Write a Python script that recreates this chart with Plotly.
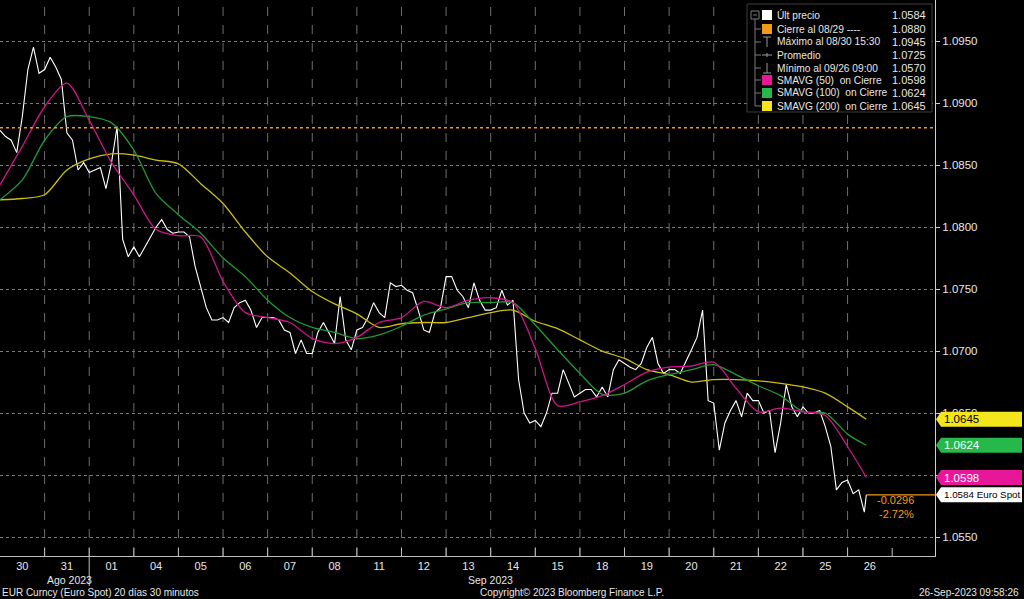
import plotly.graph_objects as go

# ---------------- data ----------------
day_labels = ["30", "31", "01", "04", "05", "06", "07", "08", "11", "12",
              "13", "14", "15", "18", "19", "20", "21", "22", "25", "26"]
month_labels = ["Ago 2023", "Sep 2023"]

# EUR spot, sampled every 6 half-hour bars (8 per trading day), last value = latest print
price = [
    1.0878, 1.0873, 1.0870, 1.0860, 1.0889, 1.0927, 1.0945, 1.0924,
    1.0927, 1.0937, 1.0929, 1.0919, 1.0876, 1.0870, 1.0846, 1.0852,
    1.0844, 1.0846, 1.0848, 1.0831, 1.0852, 1.0881, 1.0790, 1.0776,
    1.0784, 1.0776, 1.0784, 1.0792, 1.0800, 1.0806, 1.0798, 1.0795,
    1.0796, 1.0796, 1.0792, 1.0768, 1.0752, 1.0735, 1.0725, 1.0725,
    1.0727, 1.0723, 1.0735, 1.0739, 1.0741, 1.0733, 1.0719, 1.0727,
    1.0727, 1.0727, 1.0725, 1.0717, 1.0715, 1.0698, 1.0709, 1.0698,
    1.0698, 1.0715, 1.0723, 1.0715, 1.0706, 1.0744, 1.0709, 1.0701,
    1.0717, 1.0719, 1.0727, 1.0739, 1.0731, 1.0727, 1.0755, 1.0752,
    1.0753, 1.0749, 1.0747, 1.0733, 1.0717, 1.0715, 1.0731, 1.0735,
    1.0760, 1.0760, 1.0749, 1.0744, 1.0735, 1.0755, 1.0741, 1.0733,
    1.0733, 1.0735, 1.0749, 1.0737, 1.0741, 1.0677, 1.0650, 1.0642,
    1.0644, 1.0639, 1.0650, 1.0666, 1.0666, 1.0685, 1.0674, 1.0663,
    1.0666, 1.0669, 1.0669, 1.0663, 1.0671, 1.0663, 1.0685, 1.0693,
    1.0690, 1.0687, 1.0685, 1.0690, 1.0703, 1.0711, 1.0690, 1.0682,
    1.0685, 1.0685, 1.0682, 1.0691, 1.0701, 1.0711, 1.0733, 1.0660,
    1.0658, 1.0620, 1.0642, 1.0652, 1.0660, 1.0647, 1.0666, 1.0660,
    1.0660, 1.0650, 1.0652, 1.0618, 1.0642, 1.0673, 1.0655, 1.0647,
    1.0655, 1.0650, 1.0650, 1.0652, 1.0639, 1.0623, 1.0588, 1.0594,
    1.0596, 1.0585, 1.0588, 1.0570, 1.0584,
]
# moving averages, sampled every half day, last value = latest
sma50 = [1.0834, 1.0865, 1.0897, 1.0916, 1.0886, 1.0852, 1.0826, 1.0798, 1.0793, 1.0792,
         1.0756, 1.0731, 1.0727, 1.0723, 1.0710, 1.0706, 1.0711, 1.0723, 1.0727, 1.0740,
         1.0735, 1.0741, 1.0743, 1.0739, 1.0702, 1.0656, 1.0659, 1.0664, 1.0673, 1.0683,
         1.0687, 1.0688, 1.0691, 1.0670, 1.0651, 1.0654, 1.0651, 1.0648, 1.0623, 1.0598]
sma100 = [1.0822, 1.0838, 1.0870, 1.0889, 1.0889, 1.0884, 1.0862, 1.0827, 1.0810, 1.0795,
          1.0775, 1.0760, 1.0741, 1.0727, 1.0719, 1.0715, 1.0710, 1.0713, 1.0720, 1.0729,
          1.0734, 1.0739, 1.0739, 1.0739, 1.0721, 1.0701, 1.0682, 1.0665, 1.0666, 1.0676,
          1.0681, 1.0685, 1.0689, 1.0681, 1.0672, 1.0664, 1.0651, 1.0650, 1.0633, 1.0624]
sma200 = [1.0822, 1.0823, 1.0826, 1.0846, 1.0855, 1.0859, 1.0858, 1.0854, 1.0851, 1.0835,
          1.0819, 1.0796, 1.0776, 1.0763, 1.0748, 1.0738, 1.0730, 1.0719, 1.0722, 1.0723,
          1.0723, 1.0727, 1.0731, 1.0733, 1.0724, 1.0718, 1.0709, 1.0700, 1.0694, 1.0685,
          1.0681, 1.0675, 1.0677, 1.0677, 1.0676, 1.0674, 1.0671, 1.0666, 1.0655, 1.0645]

close_ref = 1.0880
last_price = 1.0584
change_text = ["-0.0296", "-2.72%"]
y_ticks = [1.0550, 1.0600, 1.0650, 1.0700, 1.0750, 1.0800, 1.0850, 1.0900, 1.0950]
y_ticktext = ["1.0550", "", "1.0650", "1.0700", "1.0750", "1.0800", "1.0850", "1.0900", "1.0950"]

legend_names = ["Últ precio", "Cierre al 08/29 ----", "Máximo al 08/30 15:30", "Promedio",
                "Mínimo al 09/26 09:00", "SMAVG (50)  on Cierre", "SMAVG (100)  on Cierre",
                "SMAVG (200)  on Cierre"]
legend_values = ["1.0584", "1.0880", "1.0945", "1.0725", "1.0570", "1.0598", "1.0624", "1.0645"]

footer_left = "EUR Curncy (Euro Spot) 20 días 30 minutos"
footer_mid = "Copyright© 2023 Bloomberg Finance L.P."
footer_right = "26-Sep-2023 09:58:26"

# ---------------- styling ----------------
C_PRICE = "#ffffff"
C_50, C_100, C_200 = "#d0138a", "#1f9a34", "#cbbd12"
C_50B, C_100B, C_200B = "#e8179a", "#26b84a", "#f3e61c"
C_ORANGE = "#f39a1a"
TXT = "#e6e6e6"
FONT = "Liberation Sans, Arial, sans-serif"

W, H = 1024, 599
PW, PH = 935, 556          # plot area in pixels
X_MAX = 20.96
Y_MIN, Y_MAX = 1.05347, 1.09831
LAST_X = 19.42

def px(xp):   # pixel x -> paper
    return xp / PW

def py(yp):   # pixel y -> paper
    return 1 - yp / PH

def vy(v):    # value -> paper
    return (v - Y_MIN) / (Y_MAX - Y_MIN)

price_x = [i / 8 for i in range(len(price) - 1)] + [LAST_X]
ma_x = [j / 2 for j in range(len(sma50) - 1)] + [LAST_X]

fig = go.Figure()
fig.add_trace(go.Scatter(x=price_x, y=price, mode="lines",
                         line=dict(color=C_PRICE, width=1.1), hoverinfo="skip"))
for ser, col in ((sma200, C_200), (sma100, C_100), (sma50, C_50)):
    fig.add_trace(go.Scatter(x=ma_x, y=ser, mode="lines",
                             line=dict(color=col, width=1.3, shape="spline", smoothing=0.8),
                             hoverinfo="skip"))

shapes = []
ann = []

# vertical dashed day gridlines
for d in range(1, 20):
    shapes.append(dict(type="line", xref="x", yref="paper", x0=d, x1=d, y0=0, y1=1,
                       line=dict(color="#6e6e6e", width=1, dash="dash"), layer="below"))
# tick marks on the time axis
for d in range(1, 21):
    shapes.append(dict(type="line", xref="paper", yref="paper", x0=d / X_MAX, x1=d / X_MAX,
                       y0=0, y1=8 / PH, line=dict(color="#bfbfbf", width=1)))
# month separator
shapes.append(dict(type="line", xref="paper", yref="paper", x0=2 / X_MAX, x1=2 / X_MAX,
                   y0=0, y1=py(586), line=dict(color="#bfbfbf", width=1)))

# reference close line
shapes.append(dict(type="line", xref="paper", yref="y", x0=0, x1=1, y0=close_ref, y1=close_ref,
                   line=dict(color=C_ORANGE, width=1.5, dash="dot"), layer="above"))
# last price line to the axis
shapes.append(dict(type="line", xref="x", yref="y", x0=LAST_X, x1=X_MAX, y0=last_price, y1=last_price,
                   line=dict(color=C_ORANGE, width=1.2), layer="above"))
ann.append(dict(x=px(875), y=py(500), xref="paper", yref="paper", text=change_text[0],
                xanchor="left", yanchor="middle", showarrow=False,
                font=dict(family=FONT, size=11, color=C_ORANGE)))
ann.append(dict(x=px(877), y=py(514), xref="paper", yref="paper", text=change_text[1],
                xanchor="left", yanchor="middle", showarrow=False,
                font=dict(family=FONT, size=11, color=C_ORANGE)))

# price tags on the value axis
tags = [(sma200[-1], C_200B, "#000000", legend_values[7], 11.5),
        (sma100[-1], C_100B, "#ffffff", legend_values[6], 11.5),
        (sma50[-1], C_50B, "#ffffff", legend_values[5], 11.5),
        (last_price, "#ffffff", "#000000", legend_values[0] + " Euro Spot", 9.8)]
hh = 7.5 / PH
for v, fc, tc, label, fs in tags:
    yc = vy(v)
    xt, x0, x1 = px(936), px(941), px(1022)
    path = (f"M {xt},{yc} L {x0},{yc + hh} L {x1},{yc + hh} L {x1},{yc - hh} "
            f"L {x0},{yc - hh} Z")
    shapes.append(dict(type="path", xref="paper", yref="paper", path=path,
                       fillcolor=fc, line=dict(width=0), layer="above"))
    ann.append(dict(x=px(942), y=yc, xref="paper", yref="paper", text=label,
                    xanchor="left", yanchor="middle", showarrow=False,
                    font=dict(family=FONT, size=fs, color=tc)))

# legend box
shapes.append(dict(type="rect", xref="paper", yref="paper", x0=px(747), x1=px(932),
                   y0=py(4), y1=py(112), fillcolor="#000000",
                   line=dict(color="#3c3c3c", width=1), layer="above"))
row_y = [15, 29, 42, 55, 68, 80, 93, 106]
# tree connector
shapes.append(dict(type="line", xref="paper", yref="paper", x0=px(755), x1=px(755),
                   y0=py(19), y1=py(106), line=dict(color="#7a7a7a", width=1), layer="above"))
shapes.append(dict(type="rect", xref="paper", yref="paper", x0=px(751), x1=px(759),
                   y0=py(11), y1=py(19), fillcolor="#000000",
                   line=dict(color="#7a7a7a", width=1), layer="above"))
shapes.append(dict(type="line", xref="paper", yref="paper", x0=px(753), x1=px(757),
                   y0=py(15), y1=py(15), line=dict(color="#7a7a7a", width=1), layer="above"))
for ry in row_y[1:]:
    shapes.append(dict(type="line", xref="paper", yref="paper", x0=px(755), x1=px(761),
                       y0=py(ry), y1=py(ry), line=dict(color="#7a7a7a", width=1), layer="above"))
swatches = {0: "#ffffff", 1: C_ORANGE, 5: C_50B, 6: C_100B, 7: C_200B}
for idx, col in swatches.items():
    ry = row_y[idx]
    shapes.append(dict(type="rect", xref="paper", yref="paper", x0=px(762), x1=px(772),
                       y0=py(ry - 5), y1=py(ry + 5), fillcolor=col, line=dict(width=0),
                       layer="above"))
icon = dict(color="#9a9a9a", width=1)
# Máximo: T
shapes.append(dict(type="line", xref="paper", yref="paper", x0=px(763), x1=px(771),
                   y0=py(37), y1=py(37), line=icon, layer="above"))
shapes.append(dict(type="line", xref="paper", yref="paper", x0=px(767), x1=px(767),
                   y0=py(37), y1=py(47), line=icon, layer="above"))
# Promedio: -+-
shapes.append(dict(type="line", xref="paper", yref="paper", x0=px(762), x1=px(772),
                   y0=py(55), y1=py(55), line=icon, layer="above"))
shapes.append(dict(type="line", xref="paper", yref="paper", x0=px(767), x1=px(767),
                   y0=py(53), y1=py(57), line=icon, layer="above"))
# Mínimo: inverted T
shapes.append(dict(type="line", xref="paper", yref="paper", x0=px(763), x1=px(771),
                   y0=py(73), y1=py(73), line=icon, layer="above"))
shapes.append(dict(type="line", xref="paper", yref="paper", x0=px(767), x1=px(767),
                   y0=py(63), y1=py(73), line=icon, layer="above"))
for name, val, ry in zip(legend_names, legend_values, row_y):
    ann.append(dict(x=px(775), y=py(ry), xref="paper", yref="paper", text=name,
                    xanchor="left", yanchor="middle", showarrow=False,
                    font=dict(family=FONT, size=10.2, color=TXT)))
    ann.append(dict(x=px(928), y=py(ry), xref="paper", yref="paper", text=val,
                    xanchor="right", yanchor="middle", showarrow=False,
                    font=dict(family=FONT, size=11, color=TXT)))

# month labels
ann.append(dict(x=1.0 / X_MAX, y=py(580), xref="paper", yref="paper", text=month_labels[0],
                showarrow=False, yanchor="middle", font=dict(family=FONT, size=10.5, color=TXT)))
ann.append(dict(x=11.0 / X_MAX, y=py(580), xref="paper", yref="paper", text=month_labels[1],
                showarrow=False, yanchor="middle", font=dict(family=FONT, size=10.5, color=TXT)))
# footer
ann.append(dict(x=0, y=py(592), xref="paper", yref="paper", text=footer_left, xanchor="left",
                yanchor="middle", showarrow=False, font=dict(family=FONT, size=10, color=TXT)))
ann.append(dict(x=px(572), y=py(592), xref="paper", yref="paper", text=footer_mid,
                yanchor="middle", showarrow=False, font=dict(family=FONT, size=10, color=TXT)))
ann.append(dict(x=px(1021), y=py(592), xref="paper", yref="paper", text=footer_right,
                xanchor="right", yanchor="middle", showarrow=False,
                font=dict(family=FONT, size=10, color=TXT)))

fig.update_layout(
    width=W, height=H,
    margin=dict(l=0, r=W - PW, t=0, b=H - PH),
    paper_bgcolor="#000000", plot_bgcolor="#000000",
    showlegend=False, hovermode=False,
    shapes=shapes, annotations=ann,
    xaxis=dict(range=[0, X_MAX], tickvals=[d + 0.5 for d in range(len(day_labels))],
               ticktext=day_labels, ticks="", showgrid=False, zeroline=False,
               showline=True, linecolor="#bfbfbf", linewidth=1,
               tickfont=dict(family=FONT, size=11, color=TXT), fixedrange=True),
    yaxis=dict(range=[Y_MIN, Y_MAX], side="right", tickvals=y_ticks,
               ticktext=y_ticktext,
               showgrid=True, gridcolor="#7a7a7a", griddash="dot", gridwidth=1,
               zeroline=False, showline=True, linecolor="#d0d0d0", linewidth=1,
               ticks="outside", ticklen=4, tickcolor="#d0d0d0",
               tickfont=dict(family=FONT, size=11.5, color=TXT), fixedrange=True),
)

fig.write_html("out.html", config={"displayModeBar": False},
               post_script="document.body.style.margin='0';document.body.style.overflow='hidden';")
